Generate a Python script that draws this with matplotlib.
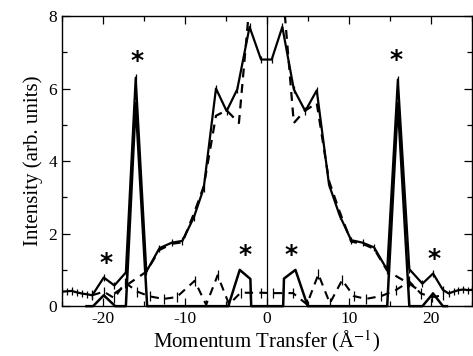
import matplotlib

matplotlib.use("Agg")
import matplotlib.pyplot as plt  # noqa: E402
from matplotlib.ticker import MultipleLocator  # noqa: E402

plt.rcParams["font.family"] = ["Liberation Serif", "DejaVu Serif"]
plt.rcParams["mathtext.fontset"] = "stix"
plt.rcParams["axes.unicode_minus"] = False

# measured intensity (solid, with error bars)
data_x = [-25.0, -24.4, -23.8, -23.2, -22.6, -22.0, -21.3, -19.9, -18.6, -17.2,
          -16.0, -14.7, -13.1, -11.6, -10.3, -8.9, -7.7, -6.2, -4.9, -3.6,
          -2.1, -0.7, 0.6, 1.9, 3.3, 4.7, 6.1, 7.6, 8.9, 10.3,
          11.7, 13.1, 14.7, 16.0, 17.4, 19.0, 20.3, 21.5, 22.2, 22.8,
          23.4, 24.0, 24.6, 25.0]
data_y = [0.40, 0.41, 0.42, 0.38, 0.35, 0.33, 0.30, 0.79, 0.57, 0.93,
          6.30, 0.95, 1.60, 1.75, 1.80, 2.45, 3.25, 6.00, 5.38, 5.98,
          7.70, 6.80, 6.80, 7.70, 5.98, 5.38, 5.95, 3.35, 2.50, 1.82,
          1.75, 1.62, 1.00, 6.25, 1.02, 0.62, 0.90, 0.45, 0.35, 0.40,
          0.44, 0.46, 0.44, 0.45]
data_err = 0.1

# calculated intensity (dashed)
fit_x = [-18.6, -17.3, -16.0, -14.7, -13.1, -11.6, -10.3, -8.9, -7.7, -6.2,
         -4.9, -3.4, -2.0, -0.7, 0.7, 2.0, 3.3, 4.6, 6.1, 7.6,
         8.9, 10.3, 11.7, 13.1, 14.7, 16.0, 17.4, 18.8]
fit_y = [0.35, 0.55, 0.75, 0.95, 1.55, 1.72, 1.76, 2.55, 3.30, 5.25,
         5.40, 5.05, 8.60, 9.50, 9.50, 8.60, 5.05, 5.38, 5.60, 3.45,
         2.60, 1.78, 1.72, 1.58, 0.98, 0.80, 0.62, 0.40]

# lower solid curve
low_x = [-22.0, -21.2, -19.9, -18.5, -17.2, -16.0, -14.6, -4.7, -3.3, -2.0,
         -1.9, 2.0, 2.1, 3.5, 5.0, 14.7, 16.0, 17.4, 19.0, 20.3,
         21.5, 22.0]
low_y = [0.0, 0.0, 0.30, 0.0, 0.0, 5.60, 0.0, 0.0, 1.00, 0.75,
         0.0, 0.0, 0.76, 1.00, 0.0, 0.0, 5.60, 0.0, 0.0, 0.35,
         0.0, 0.0]

# lower dashed curve (with error bars)
ldash_x = [-21.3, -19.9, -18.6, -17.3, -15.8, -14.3, -12.6, -11.0, -8.8, -7.4,
           -6.0, -4.6, -3.2, -2.0, -0.7, 0.7, 2.0, 3.2, 4.9, 6.3,
           7.7, 9.2, 10.6, 12.1, 14.0, 15.8, 17.4, 18.8, 20.2, 21.5]
ldash_y = [0.30, 0.40, 0.22, 0.65, 0.40, 0.27, 0.20, 0.25, 0.70, 0.04,
           0.85, 0.05, 0.37, 0.37, 0.37, 0.36, 0.36, 0.36, 0.05, 0.88,
           0.08, 0.72, 0.28, 0.20, 0.28, 0.45, 0.68, 0.35, 0.25, 0.30]
ldash_err = 0.14

# asterisk marks
star_x = [-19.6, -15.8, -2.6, 3.0, 15.8, 20.4]
star_y = [1.20, 6.75, 1.40, 1.40, 6.78, 1.30]

fig = plt.figure(figsize=(4.73, 3.56), dpi=100)
ax = fig.add_axes([0.131, 0.140, 0.866, 0.815])

ax.axvline(0, color="black", linewidth=0.9)

ax.errorbar(data_x, data_y, yerr=data_err, color="black", linewidth=1.6,
            elinewidth=0.9, capsize=0)
ax.plot(fit_x, fit_y, color="black", linewidth=1.6, linestyle=(0, (4, 3)))
ax.plot(low_x, low_y, color="black", linewidth=1.8, clip_on=False)
ax.errorbar(ldash_x, ldash_y, yerr=ldash_err, color="black", linewidth=1.5,
            linestyle=(0, (4, 3)), elinewidth=0.9, capsize=0)

for sx, sy in zip(star_x, star_y):
    ax.text(sx, sy, "*", fontsize=18, fontweight="bold",
            ha="center", va="center", family="DejaVu Sans")

ax.set_xlim(-25, 25)
ax.set_ylim(0, 8)
ax.xaxis.set_major_locator(MultipleLocator(10))
ax.xaxis.set_minor_locator(MultipleLocator(5))
ax.yaxis.set_major_locator(MultipleLocator(2))
ax.yaxis.set_minor_locator(MultipleLocator(1))
ax.tick_params(which="both", direction="in", top=True, right=True,
               labelsize=12.5, width=0.9)
ax.tick_params(which="major", length=6)
ax.tick_params(which="minor", length=3.5)
for s in ax.spines.values():
    s.set_linewidth(1.0)

ax.set_xlabel("Momentum Transfer (Å$^{-1}$)", fontsize=15, labelpad=1)
ax.set_ylabel("Intensity (arb. units)", fontsize=15, labelpad=4)

fig.savefig("out.png", dpi=100)
plt.close(fig)
